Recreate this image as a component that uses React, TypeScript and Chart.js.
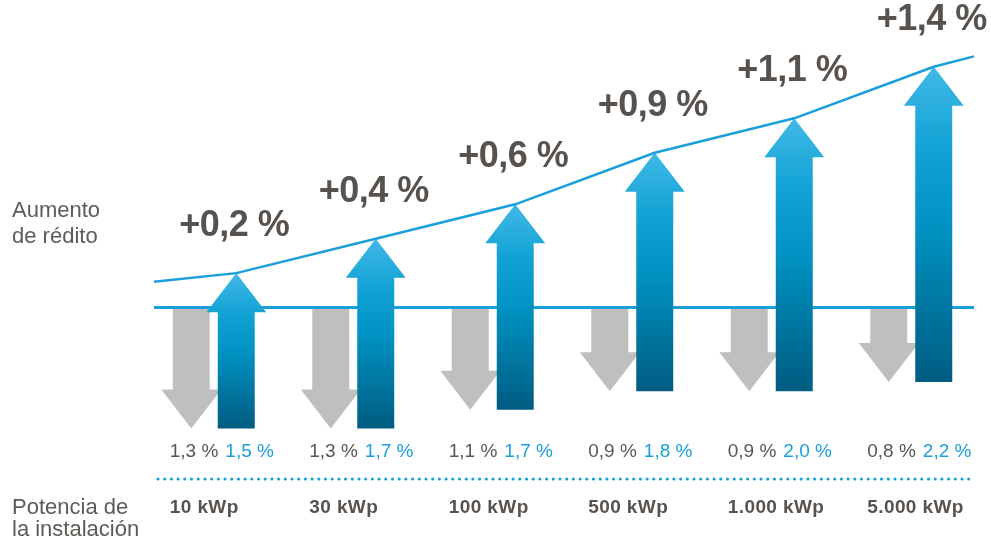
import React, { useEffect, useRef } from 'react';
import { Chart, registerables, LinearScale } from 'chart.js';

Chart.register(...registerables);

// ---- data ----
const CATEGORIES = ['10 kWp', '30 kWp', '100 kWp', '500 kWp', '1.000 kWp', '5.000 kWp'];
const LOSS = [1.3, 1.3, 1.1, 0.9, 0.9, 0.8];
const GAIN = [1.5, 1.7, 1.7, 1.8, 2.0, 2.2];
const NET = GAIN.map((g, i) => Math.round((g - LOSS[i]) * 10) / 10);
const LINE_START = 0.15;
const LINE_END = 1.46;
const LEFT_TOP_LABEL = ['Aumento', 'de rédito'];
const LEFT_BOTTOM_LABEL = ['Potencia de', 'la instalación'];

const fmt = (v: number) => v.toFixed(1).replace('.', ',') + ' %';

// ---- scale: positive side stretched (illustrative chart) ----
const UP_FACTOR = 1.85;
class SplitLinearScale extends LinearScale {
  static id = 'splitLinear';
  static defaults = LinearScale.defaults;
  getPixelForValue(value: any) {
    return super.getPixelForValue(typeof value === 'number' && value > 0 ? value * UP_FACTOR : value);
  }
  getValueForPixel(pixel: number) {
    const v = super.getValueForPixel(pixel) as number;
    return v > 0 ? v / UP_FACTOR : v;
  }
}
Chart.register(SplitLinearScale as any);

const BLUE = '#1a9fdb';
const TEXT = '#57524e';
const FONT = '"Liberation Sans", Arial, Helvetica, sans-serif';

const arrowPlugin = {
  id: 'arrowPlugin',
  afterDatasetsDraw(chart: any) {
    const ctx = chart.ctx as CanvasRenderingContext2D;
    const ys = chart.scales.y;
    const area = chart.chartArea;
    const zero = ys.getPixelForValue(0);
    const grayEls = chart.getDatasetMeta(0).data;
    const blueEls = chart.getDatasetMeta(1).data;
    const HEAD_W = 1.62;
    const HEAD_H = 39;
    ctx.save();

    // gray down arrows
    grayEls.forEach((el: any) => {
      const p = el.getProps(['x', 'y', 'base', 'width'], true);
      const tip = Math.max(p.y, p.base);
      const top = Math.min(p.y, p.base) + 1;
      const hw = p.width / 2;
      const hh = (p.width * HEAD_W) / 2;
      ctx.beginPath();
      ctx.moveTo(p.x - hw, top);
      ctx.lineTo(p.x + hw, top);
      ctx.lineTo(p.x + hw, tip - HEAD_H);
      ctx.lineTo(p.x + hh, tip - HEAD_H);
      ctx.lineTo(p.x, tip);
      ctx.lineTo(p.x - hh, tip - HEAD_H);
      ctx.lineTo(p.x - hw, tip - HEAD_H);
      ctx.closePath();
      ctx.fillStyle = '#bfbfbe';
      ctx.fill();
    });

    // baseline
    ctx.beginPath();
    ctx.moveTo(area.left + 10, zero);
    ctx.lineTo(area.right - 7, zero);
    ctx.lineWidth = 3;
    ctx.strokeStyle = BLUE;
    ctx.stroke();

    // blue up arrows
    const tips: { x: number; y: number }[] = [];
    blueEls.forEach((el: any) => {
      const p = el.getProps(['x', 'y', 'base', 'width'], true);
      const tip = Math.min(p.y, p.base);
      const bottom = Math.max(p.y, p.base);
      const hw = p.width / 2;
      const hh = (p.width * HEAD_W) / 2;
      const g = ctx.createLinearGradient(0, tip, 0, bottom);
      g.addColorStop(0, '#41b9e7');
      g.addColorStop(0.25, '#13a3d5');
      g.addColorStop(0.5, '#0093c3');
      g.addColorStop(1, '#005c81');
      ctx.beginPath();
      ctx.moveTo(p.x, tip);
      ctx.lineTo(p.x + hh, tip + HEAD_H);
      ctx.lineTo(p.x + hw, tip + HEAD_H);
      ctx.lineTo(p.x + hw, bottom);
      ctx.lineTo(p.x - hw, bottom);
      ctx.lineTo(p.x - hw, tip + HEAD_H);
      ctx.lineTo(p.x - hh, tip + HEAD_H);
      ctx.closePath();
      ctx.fillStyle = g;
      ctx.fill();
      tips.push({ x: p.x, y: tip });
    });

    // trend line
    ctx.beginPath();
    ctx.moveTo(area.left + 10, ys.getPixelForValue(LINE_START));
    tips.forEach((t) => ctx.lineTo(t.x, t.y));
    ctx.lineTo(area.right - 7, ys.getPixelForValue(LINE_END));
    ctx.lineWidth = 2.5;
    ctx.lineJoin = 'round';
    ctx.strokeStyle = BLUE;
    ctx.stroke();

    // net labels
    ctx.fillStyle = TEXT;
    ctx.font = `bold 36px ${FONT}`;
    (ctx as any).letterSpacing = '-0.5px';
    ctx.textAlign = 'center';
    ctx.textBaseline = 'alphabetic';
    tips.forEach((t, i) => {
      ctx.fillText('+' + fmt(NET[i]), t.x - 2, t.y - 37);
    });
    (ctx as any).letterSpacing = '0px';

    // percent row and category labels (left-aligned at gray arrow shaft)
    grayEls.forEach((el: any, i: number) => {
      const p = el.getProps(['x', 'width'], true);
      const left = p.x - p.width / 2 - 3;
      ctx.textAlign = 'left';
      ctx.font = `19px ${FONT}`;
      ctx.fillStyle = '#5a5551';
      const lossTxt = fmt(LOSS[i]);
      ctx.fillText(lossTxt, left, 457);
      const w = ctx.measureText(lossTxt).width;
      ctx.fillStyle = BLUE;
      ctx.fillText(fmt(GAIN[i]), left + w + 7, 457);
      ctx.font = `bold 19px ${FONT}`;
      (ctx as any).letterSpacing = '0.4px';
      ctx.fillStyle = TEXT;
      ctx.fillText(CATEGORIES[i], left, 513);
      (ctx as any).letterSpacing = '0px';
    });

    // dotted separator
    ctx.beginPath();
    ctx.setLineDash([0, 6.7]);
    ctx.lineCap = 'round';
    ctx.lineWidth = 3.2;
    ctx.strokeStyle = BLUE;
    ctx.moveTo(area.left + 14, 479);
    ctx.lineTo(area.right - 8, 479);
    ctx.stroke();
    ctx.setLineDash([]);

    // left side labels
    ctx.textAlign = 'left';
    ctx.font = `22px ${FONT}`;
    ctx.fillStyle = '#5f5a56';
    ctx.fillText(LEFT_TOP_LABEL[0], 12, 217);
    ctx.fillText(LEFT_TOP_LABEL[1], 12, 243);
    ctx.fillText(LEFT_BOTTOM_LABEL[0], 12, 514);
    ctx.fillText(LEFT_BOTTOM_LABEL[1], 12, 536);

    ctx.restore();
  },
};

export default function App() {
  const ref = useRef<HTMLCanvasElement | null>(null);
  useEffect(() => {
    if (!ref.current) return;
    const chart = new Chart(ref.current, {
      type: 'bar',
      data: {
        labels: CATEGORIES,
        datasets: [
          {
            label: 'Pérdida',
            data: LOSS.map((l) => [0, -l]) as any,
            backgroundColor: 'rgba(0,0,0,0)',
            borderWidth: 0,
            categoryPercentage: 0.645,
            barPercentage: 0.822,
          },
          {
            label: 'Ganancia',
            data: LOSS.map((l, i) => [-l, GAIN[i] - l]) as any,
            backgroundColor: 'rgba(0,0,0,0)',
            borderWidth: 0,
            categoryPercentage: 0.645,
            barPercentage: 0.822,
          },
        ],
      },
      options: {
        animation: false,
        responsive: false,
        devicePixelRatio: 1,
        layout: { padding: { left: 144, right: 10, top: 10, bottom: 98 } },
        plugins: { legend: { display: false }, tooltip: { enabled: false } },
        scales: {
          x: { display: false, grid: { display: false } },
          y: { type: 'splitLinear' as any, display: false, min: -1.5, max: 3.2, grid: { display: false } },
        },
      },
      plugins: [arrowPlugin],
    });
    return () => chart.destroy();
  }, []);
  return (
    <div style={{ position: 'fixed', left: 0, top: 0, width: 991, height: 545, background: '#fff' }}>
      <canvas ref={ref} width={991} height={545} />
    </div>
  );
}
